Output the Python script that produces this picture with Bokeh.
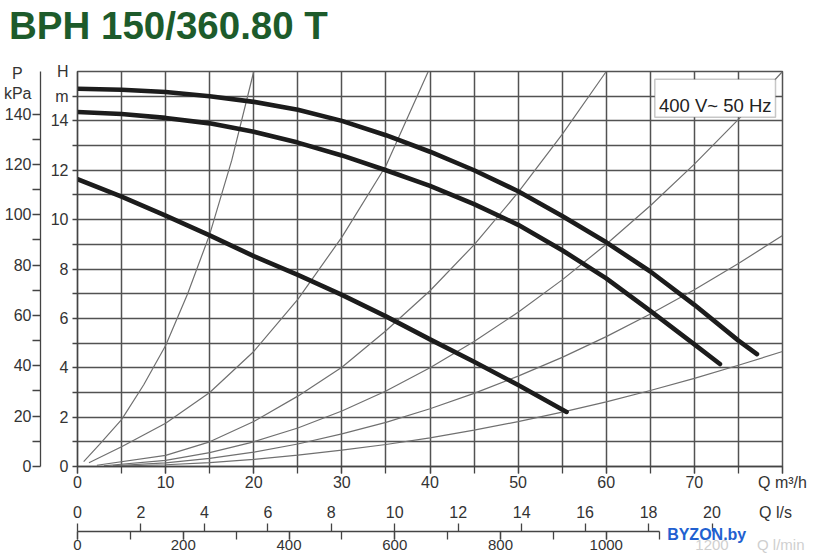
from bokeh.plotting import figure
from bokeh.models import Range1d, LinearAxis, SingleIntervalTicker, FixedTicker, Label, BoxAnnotation
from bokeh.embed import file_html
from bokeh.resources import INLINE

# ---------------- data ----------------
# pump curves: Q [m3/h] -> H [m]
q_top = [0, 5, 10, 15, 20, 25, 30, 35, 40, 45, 50, 55, 60, 65, 70, 75, 77.1]
h_top = [15.3, 15.26, 15.17, 15.0, 14.77, 14.45, 14.0, 13.42, 12.75, 12.0, 11.15, 10.15, 9.08, 7.9, 6.55, 5.1, 4.55]
q_mid = [0, 5, 10, 15, 20, 25, 30, 35, 40, 45, 50, 55, 60, 65, 70, 72.9]
h_mid = [14.36, 14.28, 14.12, 13.9, 13.56, 13.12, 12.6, 12.0, 11.37, 10.63, 9.79, 8.76, 7.62, 6.3, 4.95, 4.15]
q_low = [0, 5, 10, 15, 20, 25, 30, 35, 40, 45, 50, 55.5]
h_low = [11.64, 10.93, 10.16, 9.36, 8.52, 7.76, 6.95, 6.08, 5.15, 4.24, 3.3, 2.21]

# system curves (thin grey)
qa = [0.7, 2.5, 5, 7.5, 10, 12.5, 15, 17.5, 20]
ha = [0.2, 0.9, 1.9, 3.3, 4.9, 7.0, 9.4, 12.4, 16.0]
qb = [1.3, 5, 10, 15, 20, 25, 30, 35, 39.8]
hb = [0.15, 0.8, 1.75, 3.0, 4.66, 6.77, 9.29, 12.18, 16.0]
qc = [2.2, 10, 15, 20, 25, 30, 35, 40, 45, 50, 55, 60]
hc = [0.05, 0.45, 1.0, 1.82, 2.85, 4.02, 5.5, 7.12, 8.98, 11.1, 13.45, 16.0]
qd = [3, 10, 15, 20, 25, 30, 35, 40, 45, 50, 55, 60, 65, 70, 75, 80]
hd = [0.03, 0.25, 0.56, 1.0, 1.56, 2.25, 3.06, 4.0, 5.06, 6.25, 7.56, 9.0, 10.56, 12.25, 14.06, 16.0]
qe = [4, 10, 15, 20, 25, 30, 35, 40, 45, 50, 55, 60, 65, 70, 75, 80]
he = [0.03, 0.15, 0.33, 0.58, 0.91, 1.32, 1.79, 2.34, 2.96, 3.66, 4.42, 5.26, 6.18, 7.16, 8.22, 9.36]
qf = [5, 10, 15, 20, 25, 30, 35, 40, 45, 50, 55, 60, 65, 70, 75, 80]
hf = [0.02, 0.07, 0.16, 0.29, 0.46, 0.66, 0.89, 1.16, 1.47, 1.82, 2.2, 2.62, 3.08, 3.57, 4.1, 4.66]

pump_curves = [(q_top, h_top), (q_mid, h_mid), (q_low, h_low)]
system_curves = [(qa, ha), (qb, hb), (qc, hc), (qd, hd), (qe, he), (qf, hf)]

# tick values and texts
h_ticks = [0, 2, 4, 6, 8, 10, 12, 14]
p_ticks = [0, 20, 40, 60, 80, 100, 120, 140]
ls_ticks = [0, 2, 4, 6, 8, 10, 12, 14, 16, 18, 20]
title_text = "BPH 150/360.80 T"
supply_text = "400 V~ 50 Hz"
watermark_text = "BYZON.by"

Q_MAX = 80
H_MAX = 16
KPA_PER_M = 9.80665
LS_PER_M3H = 1 / 3.6
LMIN_PER_M3H = 1000 / 60
LMIN_SHOWN = 1100           # l/min scale drawn up to here (the rest is under the watermark)

FONT = "Liberation Sans"
GRID = "#525252"
AX = "#444444"
TXT = "#333333"
NB = "\u00a0"

# ---------------- figure ----------------
p = figure(width=814, height=555, x_range=Range1d(0, Q_MAX), y_range=Range1d(0, H_MAX),
           output_backend="svg", toolbar_location=None,
           min_border_left=77, min_border_right=32, min_border_top=70, min_border_bottom=87)
qax = p.below[0]   # default Q m3/h axis
hax = p.left[0]    # default H axis
p.extra_y_ranges = {"kpa": Range1d(0, H_MAX * KPA_PER_M)}
p.extra_x_ranges = {"ls": Range1d(0, Q_MAX * LS_PER_M3H), "lmin": Range1d(0, Q_MAX * LMIN_PER_M3H)}
p.outline_line_color = GRID
p.outline_line_width = 1.5
p.background_fill_color = "white"
p.border_fill_color = "white"
p.title.visible = False

# grid
p.xgrid.ticker = SingleIntervalTicker(interval=5)
p.ygrid.ticker = SingleIntervalTicker(interval=1)
for g in (p.xgrid[0], p.ygrid[0]):
    g.grid_line_color = GRID
    g.grid_line_width = 1.5
    g.grid_line_alpha = 1


def style(ax, size="16px"):
    ax.major_label_text_font = FONT
    ax.major_label_text_font_size = size
    ax.major_label_text_color = TXT
    ax.major_tick_line_color = AX
    ax.minor_tick_line_color = AX
    ax.major_tick_line_width = 1.3
    ax.minor_tick_line_width = 1.3
    ax.axis_line_color = AX
    ax.axis_line_width = 1.3
    ax.major_tick_in = 0
    ax.minor_tick_in = 0


def textonly(ax):
    ax.axis_line_color = None
    ax.major_tick_line_color = None
    ax.minor_tick_line_color = None
    ax.major_tick_out = 0
    ax.minor_tick_out = 0


# title, written as the only label of a bare scale above the chart
tax = LinearAxis(x_range_name="lmin", ticker=FixedTicker(ticks=[172]))
style(tax, "38.5px")
textonly(tax)
tax.major_label_text_font_style = "bold"
tax.major_label_text_color = "#1d5b2b"
tax.major_label_standoff = 25
tax.major_label_overrides = {172: title_text}
p.add_layout(tax, "above")

# H axis (m); unit texts sit on the scale itself, visible tick marks are the minor ones
style(hax)
hax.ticker = FixedTicker(ticks=h_ticks + [15, 16], minor_ticks=list(range(0, 16)))
hax.major_tick_line_color = None
hax.major_tick_out = 5
hax.minor_tick_out = 5
hax.major_label_standoff = 4
hax.major_label_overrides = {15: "m", 16: NB * 3 + "H"}

# P axis (kPa)
pax = LinearAxis(y_range_name="kpa",
                 ticker=FixedTicker(ticks=p_ticks + [148, 156], minor_ticks=list(range(0, 150, 10))))
style(pax)
pax.major_tick_line_color = None
pax.major_tick_out = 8
pax.minor_tick_out = 8
pax.major_label_standoff = 1
pax.major_label_overrides = {148: "kPa", 156: "P" + NB + NB}
p.add_layout(pax, "left")

# Q m3/h axis
style(qax)
qax.ticker = SingleIntervalTicker(interval=10, num_minor_ticks=2)
qax.major_tick_out = 7
qax.minor_tick_out = 7
qax.major_label_standoff = 0
qax.major_label_overrides = {80: "Q m\u00b3/h"}

# Q l/s texts
lsl = LinearAxis(x_range_name="ls", ticker=FixedTicker(ticks=ls_ticks + [22]))
style(lsl)
textonly(lsl)
lsl.major_label_standoff = 10
lsl.major_label_overrides = {22: "Q l/s"}
p.add_layout(lsl, "below")

# Q l/s ticks, hanging down onto the shared line
lst = LinearAxis(x_range_name="ls", ticker=FixedTicker(ticks=ls_ticks),
                 bounds=(0, LMIN_SHOWN / LMIN_PER_M3H * LS_PER_M3H))
style(lst, "1px")
lst.axis_line_color = None
lst.major_tick_out = 8
lst.minor_tick_line_color = None
lst.minor_tick_out = 0
lst.major_label_standoff = 0
lst.major_label_overrides = {t: "" for t in ls_ticks}
p.add_layout(lst, "below")

# Q l/min axis
lma = LinearAxis(x_range_name="lmin", ticker=SingleIntervalTicker(interval=200, num_minor_ticks=2),
                 bounds=(0, LMIN_SHOWN))
style(lma, "15px")
lma.major_tick_out = 8
lma.minor_tick_out = 8
lma.major_label_standoff = 0
p.add_layout(lma, "below")

# blurred remains of the l/min scale under the watermark
blur = LinearAxis(x_range_name="lmin", ticker=FixedTicker(ticks=[1200, 1330]))
style(blur, "15px")
textonly(blur)
blur.major_label_text_color = "#cfcfcf"
blur.major_label_standoff = -17
blur.major_label_overrides = {1330: "Q l/min"}
p.add_layout(blur, "below")

# watermark
wm = LinearAxis(x_range_name="lmin", ticker=FixedTicker(ticks=[1190]))
style(wm, "16px")
textonly(wm)
wm.major_label_text_color = "#2160d0"
wm.major_label_text_font_style = "bold"
wm.major_label_standoff = -30
wm.major_label_overrides = {1190: watermark_text}
p.add_layout(wm, "below")

# ---------------- curves ----------------
for q, h in system_curves:
    p.line(q, h, line_color="#707070", line_width=1.2)
for q, h in pump_curves:
    p.line(q, h, line_color="#1c1c1c", line_width=4.6, line_cap="round", line_join="round")

# ---------------- supply box ----------------
def dx(px):  # page pixel -> data x (layout helper)
    return (px - 77) / (705 / Q_MAX)

def dy(py):  # page pixel -> data y (layout helper)
    return (467.6 - py) / (398 / H_MAX)

p.add_layout(BoxAnnotation(left=dx(654.3), right=dx(775), top=dy(77.3), bottom=dy(115.7),
                           fill_color="white", fill_alpha=1, line_color=AX, line_width=1.5))
p.add_layout(Label(x=dx(658.5), y=dy(104.3), text=supply_text, text_font=FONT,
                   text_font_size="18.5px", text_color="#222222", text_baseline="alphabetic"))

open("out.html", "w").write(file_html(p, INLINE))
